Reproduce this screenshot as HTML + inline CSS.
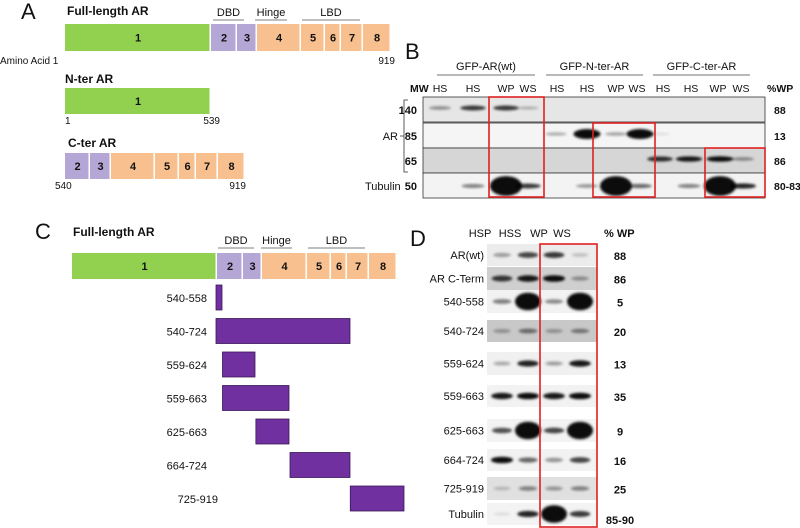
<!DOCTYPE html>
<html><head><meta charset="utf-8"><style>
html,body{margin:0;padding:0;background:#fff;}
svg{display:block;font-family:"Liberation Sans",Arial,sans-serif;}
</style></head><body>
<svg id="fig" width="800" height="528" viewBox="0 0 800 528" xmlns="http://www.w3.org/2000/svg">
<defs><filter id="bl" x="-20%" y="-50%" width="140%" height="200%"><feGaussianBlur stdDeviation="1.2"/></filter></defs>
<g id="A"></g>
<g id="B"></g>
<g id="C"></g>
<g id="D"></g>
</svg>
<script>
const NS="http://www.w3.org/2000/svg";
// ---- data ----
const domainLabels=["1","2","3","4","5","6","7","8"];
const domainKinds=["g","p","p","o","o","o","o","o"];
const fragLabels=["540-558","540-724","559-624","559-663","625-663","664-724","725-919"];
const fragStart=[540,540,559,559,625,664,725];
const fragEnd=[558,724,624,663,663,724,919];
const aaAnchors=[540,558,624,663,724,919];
const bGroups=["GFP-AR(wt)","GFP-N-ter-AR","GFP-C-ter-AR"];
const bLanes=["HS","HS","WP","WS","HS","HS","WP","WS","HS","HS","WP","WS"];
const bMW=["140","85","65","50"];
const bWP=["88","13","86","80-83"];
const bRow1=[0.4,0.8,0.8,0.25,0,0,0,0,0,0,0,0];
const bRow2=[0,0,0,0,0.3,1,0.35,1,0.1,0,0,0];
const bRow3=[0,0,0,0,0,0,0,0,0.85,0.95,1,0.4];
const bRow4=[0,0.5,1,0.8,0,0.4,1,0.6,0,0.5,1,0.9];
const dRows=["AR(wt)","AR C-Term","540-558","540-724","559-624","559-663","625-663","664-724","725-919","Tubulin"];
const dWP=["88","86","5","20","13","35","9","16","25","85-90"];
const dLaneLabels=["HSP","HSS","WP","WS"];
const dBands=[[0.35,0.75,0.8,0.2],[0.8,0.95,1,0.35],[0.5,1,0.45,1],[0.3,0.5,0.3,0.45],[0.3,0.9,0.35,0.95],[0.95,1,0.95,1],[0.7,1,0.75,1],[1,0.6,0.4,0.75],[0.2,0.45,0.35,0.45],[0.1,0.9,1,0.8]];

function el(parent,tag,attrs,text){const e=document.createElementNS(NS,tag);for(const k in attrs)e.setAttribute(k,attrs[k]);if(text!==undefined)e.textContent=text;parent.appendChild(e);return e;}
function txt(p,x,y,s,size,anchor,bold,name){const t=el(p,"text",{x:x,y:y,"font-size":size,"text-anchor":anchor||"start","font-weight":bold?"bold":"normal",fill:"#111"},s);

return t;}
const col={g:"#92d050",p:"#b4a7d6",o:"#f9c08f"};
function domainBar(p,x0,y,h,edges,startIdx,nameBase){
 for(let i=0;i<edges.length-1;i++){const k=startIdx+i;
  const r=el(p,"rect",{x:edges[i],y:y,width:edges[i+1]-edges[i]-1.5,height:h,fill:col[domainKinds[k]]});
  
  
  txt(p,(edges[i]+edges[i+1])/2,y+h/2+4,domainLabels[k],11,"middle",true,'domain-number');}
}
function header(p,y,xs){const names=["DBD","Hinge","LBD"];
 for(let i=0;i<3;i++){txt(p,(xs[i][0]+xs[i][1])/2,y,names[i],11,"middle",false,'region-label');
  const l=el(p,"line",{x1:xs[i][0],x2:xs[i][1],y1:y+4,y2:y+4,stroke:"#555","stroke-width":0.8});
  }}
// ---- Panel A ----
const A=document.getElementById("A");
txt(A,21,19,"A",22,"start",false,'panel-letter-a');
txt(A,67,15,"Full-length AR",12,"start",true,'full-length-title');
header(A,16,[[213,244],[255,287],[302,360]]);
domainBar(A,65,24,27,[65,211,237,257,301,325,341,363,391],0,'full');
txt(A,0,64,"Amino Acid 1",10,"start",false,'amino-acid-label');
txt(A,395,64,"919",10,"end",false,'aa-end');
txt(A,65,83,"N-ter AR",12,"start",true,'nter-title');
domainBar(A,65,88,26,[65,211],0,'nter');
txt(A,65,124,"1",10,"start",false,'aa-1');
txt(A,220,124,"539",10,"end",false,'aa-539');
txt(A,68,147,"C-ter AR",12,"start",true,'cter-title');
domainBar(A,65,153,26,[65,90,111,155,179,196,218,245],1,'cter');
txt(A,55,189,"540",10,"start",false,'aa-540');
txt(A,246,189,"919",10,"end",false,'aa-919');
// ---- Panel C ----
const C=document.getElementById("C");
txt(C,35,239,"C",22,"start",false,'panel-letter-c');
txt(C,73,236,"Full-length AR",12,"start",true,'c-full-length-title');
header(C,244,[[218,254],[261,292],[308,365]]);
domainBar(C,72,253,26,[72,217,243,262,307,331,347,369,397],0,'c-full');
const pxAnchors=[216,222,255,289,350,404];
function aaX(a){for(let i=0;i<aaAnchors.length-1;i++){if(a<=aaAnchors[i+1]){const t=(a-aaAnchors[i])/(aaAnchors[i+1]-aaAnchors[i]);return pxAnchors[i]+t*(pxAnchors[i+1]-pxAnchors[i]);}}return pxAnchors[pxAnchors.length-1];}
fragLabels.forEach((f,i)=>{const y=285+i*33.5;const x1=aaX(fragStart[i]),x2=aaX(fragEnd[i]);
 const r=el(C,"rect",{x:x1,y:y,width:Math.max(5,x2-x1),height:25,fill:"#7030a0",stroke:"#3a1a55","stroke-width":0.8});
 
 
 txt(C,i==6?218:207,y+17,f,11,"end",false,'fragment-label');});
// ---- blots ----
function band(p,cx,cy,w,h,v){if(v<=0.05)return;const e=el(p,"ellipse",{cx:cx,cy:cy,rx:w/2*(0.7+0.3*v),ry:h/2*(0.5+0.6*v),fill:"#000","fill-opacity":Math.min(1,v*0.95),filter:"url(#bl)"});
 
 }
function bg(p,x,y,w,h,c,name){const r=el(p,"rect",{x:x,y:y,width:w,height:h,fill:c,stroke:"#333","stroke-width":0.8});
 }
function redbox(p,x,y,w,h){const r=el(p,"rect",{x:x,y:y,width:w,height:h,fill:"none",stroke:"#e02020","stroke-width":1.6});
 }
// ---- Panel B ----
const B=document.getElementById("B");
txt(B,405,59,"B",22,"start",false,'panel-letter-b');
const gx=[[437,535],[546,643],[653,750]];
bGroups.forEach((g,i)=>{txt(B,(gx[i][0]+gx[i][1])/2,70,g,11,"middle",false,'group-label');
 const l=el(B,"line",{x1:gx[i][0],x2:gx[i][1],y1:75,y2:75,stroke:"#444","stroke-width":0.8});
 });
const laneX=[440,473,506,528,557,587,616,637,663,691,718,741];
txt(B,410,92,"MW",10.5,"start",true,'mw-label');
bLanes.forEach((l,i)=>txt(B,laneX[i],92,l,10.5,"middle",false,'lane-label'));
txt(B,767,92,"%WP",10.5,"start",true,'pct-wp-header');
const bandX=[440,473,506,528,556,587,616,640,660,689,720,743];
const rowY=[97,123,148,173],rowH=[25,25,25,25],rowBg=["#e6e6e6","#f5f5f5","#d6d6d6","#f3f3f3"];
const rows=[bRow1,bRow2,bRow3,bRow4];
rows.forEach((r,ri)=>{bg(B,423,rowY[ri],342,rowH[ri],rowBg[ri],'blot-row-'+bMW[ri]);
 r.forEach((v,i)=>band(B,bandX[i],rowY[ri]+(ri==3?13:11),ri==3&&v>0.95?32:27,ri==3&&v>0.95?18:(ri==1&&v>0.9?9:5),v));
 txt(B,417,rowY[ri]+17,bMW[ri],11,"end",true,'mw-'+bMW[ri]);
 txt(B,774,rowY[ri]+17,bWP[ri],10.5,"start",true,'wp-value');});
const br=el(B,"path",{d:"M408,100 L404,100 L404,172 L408,172",fill:"none",stroke:"#333","stroke-width":0.8});

el(B,"line",{x1:400,x2:404,y1:136,y2:136,stroke:"#333","stroke-width":0.8});
txt(B,398,140,"AR",11,"end",false,'ar-label');
txt(B,365,190,"Tubulin",11,"start",false,'tubulin-label');
redbox(B,489,97,55,100);redbox(B,593,123,62,74);redbox(B,705,148,60,49);
// ---- Panel D ----
const D=document.getElementById("D");
txt(D,410,246,"D",22,"start",false,'panel-letter-d');
const dx=[502,528,554,580];
dLaneLabels.forEach((l,i)=>txt(D,[480,510,539,562][i],237,l,11,"middle",false,'lane-label'));
txt(D,604,237,"% WP",11,"start",true,'pct-wp-header-d');
const dY=[244,267,290,320,352,385,419,449,477,503],dH=[22,23,23,22,23,22,23,22,23,22];
const dBg=["#ececec","#cfcfcf","#f2f2f2","#c8c8c8","#f0f0f0","#f2f2f2","#f3f3f3","#f2f2f2","#e0e0e0","#f3f3f3"];
dRows.forEach((r,ri)=>{const g=el(D,"rect",{x:487,y:dY[ri],width:110,height:dH[ri],fill:dBg[ri]});
 
 dBands[ri].forEach((v,i)=>{const big=v>0.95&&(ri==2||ri==4||ri==6||ri==9);band(D,dx[i],dY[ri]+dH[ri]/2,big?26:22,big?16:6,v);});
 txt(D,484,dY[ri]+dH[ri]/2+4,r,11,"end",false,'row-label');
 txt(D,620,dY[ri]+dH[ri]/2+5+(ri==9?5:0),dWP[ri],11,"middle",true,'wp-value');});
redbox(D,540,244,57,283);
</script>
</body></html>
